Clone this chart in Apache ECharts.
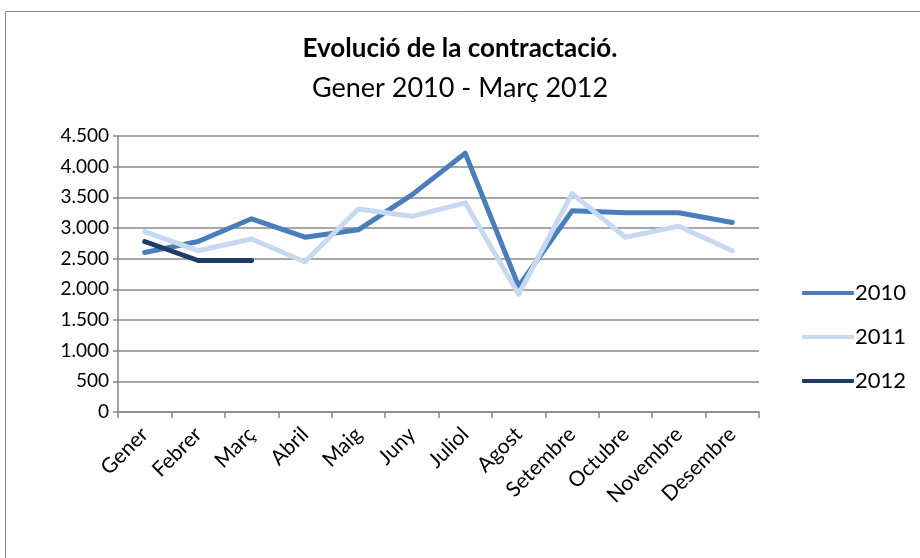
<!DOCTYPE html>
<html>
<head>
<meta charset="utf-8">
<script src="https://cdn.jsdelivr.net/npm/echarts@6/dist/echarts.min.js"></script>
<style>
  html, body { margin: 0; padding: 0; background: #fff; }
  #chart { width: 920px; height: 558px; }
</style>
</head>
<body>
<div id="chart"></div>
<script>
const months = ['Gener', 'Febrer', 'Març', 'Abril', 'Maig', 'Juny', 'Juliol', 'Agost', 'Setembre', 'Octubre', 'Novembre', 'Desembre']
const values2010 = [2600, 2780, 3150, 2850, 2970, 3540, 4220, 2050, 3280, 3250, 3250, 3090]
const values2011 = [2940, 2630, 2820, 2450, 3310, 3190, 3410, 1920, 3560, 2850, 3030, 2630]
const values2012 = [2780, 2470, 2470]
const seriesNames = ['2010', '2011', '2012']
const colors = ['#4A7EBB', '#C6D9F1', '#1F3B66']

const font = 'Lato, "Open Sans", sans-serif'

const formatThousands = (v) => String(v).replace(/\B(?=(\d{3})+(?!\d))/g, '.')

const chart = echarts.init(document.getElementById('chart'))

const lineSeries = (name, data, color) => ({
  name: name,
  type: 'line',
  data: data,
  symbol: 'none',
  lineStyle: { width: 5, color: color, cap: 'round', join: 'round' },
  itemStyle: { color: color },
  emphasis: { disabled: true }
})

const option = {
  animation: false,
  textStyle: { fontFamily: font },
  graphic: [
    {
      type: 'rect',
      shape: { x: 5.5, y: 11.5, width: 930, height: 560 },
      style: { fill: 'none', stroke: '#888', lineWidth: 1 },
      silent: true
    }
  ],
  title: {
    text: 'Evolució de la contractació.',
    subtext: 'Gener 2010 - Març 2012',
    left: 'center',
    top: 31,
    itemGap: 13,
    textStyle: { fontFamily: font, fontSize: 26, fontWeight: 'bold', color: '#000' },
    subtextStyle: { fontFamily: font, fontSize: 27, color: '#000' }
  },
  legend: {
    orient: 'vertical',
    left: 797,
    top: 277,
    itemWidth: 52,
    itemHeight: 4,
    itemGap: 22,
    icon: 'roundRect',
    textStyle: { fontFamily: font, fontSize: 22, color: '#000', padding: [0, 0, 0, -4] },
    data: seriesNames
  },
  grid: { left: 118, right: 161, top: 136, bottom: 146 },
  xAxis: {
    type: 'category',
    data: months,
    boundaryGap: true,
    axisLine: { lineStyle: { color: '#868686', width: 1.5 } },
    axisTick: { show: true, length: 6, lineStyle: { color: '#868686', width: 1.5 } },
    axisLabel: {
      rotate: 45,
      interval: 0,
      fontSize: 21,
      color: '#000',
      margin: 19,
      fontFamily: font
    }
  },
  yAxis: {
    type: 'value',
    min: 0,
    max: 4500,
    interval: 500,
    axisLine: { show: true, lineStyle: { color: '#868686', width: 1.5 } },
    axisTick: { show: true, length: 5, lineStyle: { color: '#868686', width: 1.5 } },
    splitLine: { lineStyle: { color: '#8a8a8a', width: 1.5 } },
    axisLabel: {
      fontSize: 19,
      color: '#000',
      margin: 9,
      fontFamily: font,
      formatter: formatThousands
    }
  },
  series: [
    lineSeries(seriesNames[0], values2010, colors[0]),
    lineSeries(seriesNames[1], values2011, colors[1]),
    lineSeries(seriesNames[2], values2012, colors[2])
  ]
}

chart.setOption(option)
</script>
</body>
</html>
